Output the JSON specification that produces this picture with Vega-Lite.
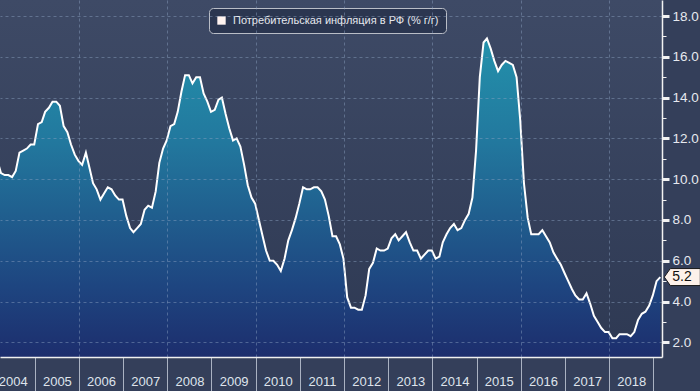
{
  "$schema": "https://vega.github.io/schema/vega-lite/v6.json",
  "width": 662,
  "height": 357,
  "autosize": {"type": "none"},
  "padding": {"left": 0, "top": 0, "right": 38, "bottom": 34},
  "background": "#343f5a",
  "config": {
    "view": {"stroke": null, "fill": {"gradient": "linear", "x1": 0, "y1": 0, "x2": 0, "y2": 1, "stops": [{"offset": 0, "color": "#3e4a66"}, {"offset": 1, "color": "#2e3953"}]}},
    "font": "Liberation Sans"
  },
  "data": {"values": [
    {"date": "2004-01-28", "value": 11.3}, {"date": "2004-02-28", "value": 10.9}, {"date": "2004-03-28", "value": 10.3}, {"date": "2004-04-28", "value": 10.2}, {"date": "2004-05-28", "value": 10.2}, {"date": "2004-06-28", "value": 10.1}, {"date": "2004-07-28", "value": 10.4}, {"date": "2004-08-28", "value": 11.3}, {"date": "2004-09-28", "value": 11.4}, {"date": "2004-10-28", "value": 11.5}, {"date": "2004-11-28", "value": 11.7}, {"date": "2004-12-28", "value": 11.7},
    {"date": "2005-01-28", "value": 12.7}, {"date": "2005-02-28", "value": 12.8}, {"date": "2005-03-28", "value": 13.3}, {"date": "2005-04-28", "value": 13.5}, {"date": "2005-05-28", "value": 13.8}, {"date": "2005-06-28", "value": 13.8}, {"date": "2005-07-28", "value": 13.6}, {"date": "2005-08-28", "value": 12.6}, {"date": "2005-09-28", "value": 12.3}, {"date": "2005-10-28", "value": 11.7}, {"date": "2005-11-28", "value": 11.2}, {"date": "2005-12-28", "value": 10.9},
    {"date": "2006-01-28", "value": 10.7}, {"date": "2006-02-28", "value": 11.3}, {"date": "2006-03-28", "value": 10.6}, {"date": "2006-04-28", "value": 9.8}, {"date": "2006-05-28", "value": 9.5}, {"date": "2006-06-28", "value": 9.0}, {"date": "2006-07-28", "value": 9.3}, {"date": "2006-08-28", "value": 9.6}, {"date": "2006-09-28", "value": 9.5}, {"date": "2006-10-28", "value": 9.2}, {"date": "2006-11-28", "value": 9.0}, {"date": "2006-12-28", "value": 9.0},
    {"date": "2007-01-28", "value": 8.2}, {"date": "2007-02-28", "value": 7.6}, {"date": "2007-03-28", "value": 7.4}, {"date": "2007-04-28", "value": 7.6}, {"date": "2007-05-28", "value": 7.8}, {"date": "2007-06-28", "value": 8.5}, {"date": "2007-07-28", "value": 8.7}, {"date": "2007-08-28", "value": 8.6}, {"date": "2007-09-28", "value": 9.4}, {"date": "2007-10-28", "value": 10.8}, {"date": "2007-11-28", "value": 11.5}, {"date": "2007-12-28", "value": 11.9},
    {"date": "2008-01-28", "value": 12.6}, {"date": "2008-02-28", "value": 12.7}, {"date": "2008-03-28", "value": 13.3}, {"date": "2008-04-28", "value": 14.3}, {"date": "2008-05-28", "value": 15.1}, {"date": "2008-06-28", "value": 15.1}, {"date": "2008-07-28", "value": 14.7}, {"date": "2008-08-28", "value": 15.0}, {"date": "2008-09-28", "value": 15.0}, {"date": "2008-10-28", "value": 14.2}, {"date": "2008-11-28", "value": 13.8}, {"date": "2008-12-28", "value": 13.3},
    {"date": "2009-01-28", "value": 13.4}, {"date": "2009-02-28", "value": 13.9}, {"date": "2009-03-28", "value": 14.0}, {"date": "2009-04-28", "value": 13.2}, {"date": "2009-05-28", "value": 12.5}, {"date": "2009-06-28", "value": 11.9}, {"date": "2009-07-28", "value": 12.0}, {"date": "2009-08-28", "value": 11.6}, {"date": "2009-09-28", "value": 10.7}, {"date": "2009-10-28", "value": 9.7}, {"date": "2009-11-28", "value": 9.1}, {"date": "2009-12-28", "value": 8.8},
    {"date": "2010-01-28", "value": 8.0}, {"date": "2010-02-28", "value": 7.2}, {"date": "2010-03-28", "value": 6.5}, {"date": "2010-04-28", "value": 6.0}, {"date": "2010-05-28", "value": 6.0}, {"date": "2010-06-28", "value": 5.8}, {"date": "2010-07-28", "value": 5.5}, {"date": "2010-08-28", "value": 6.1}, {"date": "2010-09-28", "value": 7.0}, {"date": "2010-10-28", "value": 7.5}, {"date": "2010-11-28", "value": 8.1}, {"date": "2010-12-28", "value": 8.8},
    {"date": "2011-01-28", "value": 9.6}, {"date": "2011-02-28", "value": 9.5}, {"date": "2011-03-28", "value": 9.5}, {"date": "2011-04-28", "value": 9.6}, {"date": "2011-05-28", "value": 9.6}, {"date": "2011-06-28", "value": 9.4}, {"date": "2011-07-28", "value": 9.0}, {"date": "2011-08-28", "value": 8.2}, {"date": "2011-09-28", "value": 7.2}, {"date": "2011-10-28", "value": 7.2}, {"date": "2011-11-28", "value": 6.8}, {"date": "2011-12-28", "value": 6.1},
    {"date": "2012-01-28", "value": 4.2}, {"date": "2012-02-28", "value": 3.7}, {"date": "2012-03-28", "value": 3.7}, {"date": "2012-04-28", "value": 3.6}, {"date": "2012-05-28", "value": 3.6}, {"date": "2012-06-28", "value": 4.3}, {"date": "2012-07-28", "value": 5.6}, {"date": "2012-08-28", "value": 5.9}, {"date": "2012-09-28", "value": 6.6}, {"date": "2012-10-28", "value": 6.5}, {"date": "2012-11-28", "value": 6.5}, {"date": "2012-12-28", "value": 6.6},
    {"date": "2013-01-28", "value": 7.1}, {"date": "2013-02-28", "value": 7.3}, {"date": "2013-03-28", "value": 7.0}, {"date": "2013-04-28", "value": 7.2}, {"date": "2013-05-28", "value": 7.4}, {"date": "2013-06-28", "value": 6.9}, {"date": "2013-07-28", "value": 6.5}, {"date": "2013-08-28", "value": 6.5}, {"date": "2013-09-28", "value": 6.1}, {"date": "2013-10-28", "value": 6.3}, {"date": "2013-11-28", "value": 6.5}, {"date": "2013-12-28", "value": 6.5},
    {"date": "2014-01-28", "value": 6.1}, {"date": "2014-02-28", "value": 6.2}, {"date": "2014-03-28", "value": 6.9}, {"date": "2014-04-28", "value": 7.3}, {"date": "2014-05-28", "value": 7.6}, {"date": "2014-06-28", "value": 7.8}, {"date": "2014-07-28", "value": 7.5}, {"date": "2014-08-28", "value": 7.6}, {"date": "2014-09-28", "value": 8.0}, {"date": "2014-10-28", "value": 8.3}, {"date": "2014-11-28", "value": 9.1}, {"date": "2014-12-28", "value": 11.4},
    {"date": "2015-01-28", "value": 15.0}, {"date": "2015-02-28", "value": 16.7}, {"date": "2015-03-28", "value": 16.9}, {"date": "2015-04-28", "value": 16.4}, {"date": "2015-05-28", "value": 15.8}, {"date": "2015-06-28", "value": 15.3}, {"date": "2015-07-28", "value": 15.6}, {"date": "2015-08-28", "value": 15.8}, {"date": "2015-09-28", "value": 15.7}, {"date": "2015-10-28", "value": 15.6}, {"date": "2015-11-28", "value": 15.0}, {"date": "2015-12-28", "value": 12.9},
    {"date": "2016-01-28", "value": 9.8}, {"date": "2016-02-28", "value": 8.1}, {"date": "2016-03-28", "value": 7.3}, {"date": "2016-04-28", "value": 7.3}, {"date": "2016-05-28", "value": 7.3}, {"date": "2016-06-28", "value": 7.5}, {"date": "2016-07-28", "value": 7.2}, {"date": "2016-08-28", "value": 6.9}, {"date": "2016-09-28", "value": 6.4}, {"date": "2016-10-28", "value": 6.1}, {"date": "2016-11-28", "value": 5.8}, {"date": "2016-12-28", "value": 5.4},
    {"date": "2017-01-28", "value": 5.0}, {"date": "2017-02-28", "value": 4.6}, {"date": "2017-03-28", "value": 4.3}, {"date": "2017-04-28", "value": 4.1}, {"date": "2017-05-28", "value": 4.1}, {"date": "2017-06-28", "value": 4.4}, {"date": "2017-07-28", "value": 3.9}, {"date": "2017-08-28", "value": 3.3}, {"date": "2017-09-28", "value": 3.0}, {"date": "2017-10-28", "value": 2.7}, {"date": "2017-11-28", "value": 2.5}, {"date": "2017-12-28", "value": 2.5},
    {"date": "2018-01-28", "value": 2.2}, {"date": "2018-02-28", "value": 2.2}, {"date": "2018-03-28", "value": 2.4}, {"date": "2018-04-28", "value": 2.4}, {"date": "2018-05-28", "value": 2.4}, {"date": "2018-06-28", "value": 2.3}, {"date": "2018-07-28", "value": 2.5}, {"date": "2018-08-28", "value": 3.1}, {"date": "2018-09-28", "value": 3.4}, {"date": "2018-10-28", "value": 3.5}, {"date": "2018-11-28", "value": 3.8}, {"date": "2018-12-28", "value": 4.3},
    {"date": "2019-01-28", "value": 5.0}, {"date": "2019-02-28", "value": 5.2}
  ]},
  "encoding": {
    "x": {
      "field": "date", "type": "temporal",
      "scale": {"domain": [{"year": 2004, "month": 3, "date": 20}, {"year": 2019, "month": 3, "date": 14}]},
      "axis": {
        "title": null,
        "values": [{"year": 2005, "month": 1, "date": 1}, {"year": 2006, "month": 1, "date": 1}, {"year": 2007, "month": 1, "date": 1}, {"year": 2008, "month": 1, "date": 1}, {"year": 2009, "month": 1, "date": 1}, {"year": 2010, "month": 1, "date": 1}, {"year": 2011, "month": 1, "date": 1}, {"year": 2012, "month": 1, "date": 1}, {"year": 2013, "month": 1, "date": 1}, {"year": 2014, "month": 1, "date": 1}, {"year": 2015, "month": 1, "date": 1}, {"year": 2016, "month": 1, "date": 1}, {"year": 2017, "month": 1, "date": 1}, {"year": 2018, "month": 1, "date": 1}, {"year": 2019, "month": 1, "date": 1}],
        "labelExpr": "'' + (year(datum.value) - 1)",
        "labelOffset": -22,
        "labelOverlap": false,
        "labelBound": false,
        "labelFlush": false,
        "labelPadding": -16,
        "labelColor": "#dfe4ec",
        "labelFontSize": 13,
        "tickSize": 34,
        "tickColor": "#aab2c2",
        "tickWidth": 1,
        "domainColor": "#f0f0f0",
        "domainWidth": 1.5,
        "grid": true,
        "gridColor": "#8fa4c4",
        "gridDash": [3, 3],
        "gridOpacity": {"condition": {"test": "year(datum.value) % 2 == 0", "value": 0.45}, "value": 0},
        "zindex": 1
      }
    },
    "y": {
      "field": "value", "type": "quantitative",
      "scale": {"domain": [1.28, 18.785], "zero": false, "nice": false},
      "axis": {
        "title": null,
        "orient": "right",
        "values": [2, 3, 4, 5, 6, 7, 8, 9, 10, 11, 12, 13, 14, 15, 16, 17, 18],
        "labelExpr": "datum.value % 2 == 0 ? format(datum.value, '.1f') : ''",
        "labelOverlap": false,
        "labelBound": false,
        "labelFlush": false,
        "labelPadding": 3,
        "labelColor": "#e6e9ef",
        "labelFontSize": 13.5,
        "tickSize": {"condition": {"test": "datum.value % 2 == 0", "value": 7}, "value": 4},
        "tickWidth": {"condition": {"test": "datum.value % 2 == 0", "value": 3}, "value": 1},
        "tickColor": "#f2f2f2",
        "domainColor": "#f2f2f2",
        "domainWidth": 1.5,
        "grid": true,
        "gridColor": "#8fa4c4",
        "gridDash": [3, 3],
        "gridOpacity": {"condition": {"test": "datum.value % 2 == 0", "value": 0.45}, "value": 0},
        "zindex": 1
      }
    }
  },
  "layer": [
    {
      "mark": {"type": "area", "clip": true, "fill": {"gradient": "linear", "x1": 0, "y1": 0, "x2": 0, "y2": 1, "stops": [{"offset": 0, "color": "#2391ab"}, {"offset": 0.3, "color": "#22789e"}, {"offset": 0.5, "color": "#20608f"}, {"offset": 0.72, "color": "#1e4580"}, {"offset": 1, "color": "#1c2566"}]}}
    },
    {
      "mark": {"type": "line", "clip": true, "strokeWidth": 2},
      "encoding": {
        "color": {
          "datum": "Потребительская инфляция в РФ (% г/г)",
          "scale": {"range": ["#ffffff"]},
          "legend": {
            "orient": "none", "legendX": 209, "legendY": 8, "title": null,
            "fillColor": "#2b3650", "strokeColor": "#b9bdc6", "cornerRadius": 4, "padding": 7,
            "symbolType": "square", "symbolSize": 70, "symbolFillColor": "#fff3f0", "symbolStrokeWidth": 0,
            "labelColor": "#e6e8ee", "labelFontSize": 11, "labelFont": "Liberation Sans", "labelOffset": 6, "labelLimit": 500
          }
        }
      }
    },
    {
      "transform": [{"filter": "year(toDate(datum.date)) == 2019 && datum.value == 5.2"}],
      "mark": {"type": "point", "shape": "M4,0L10,-8.5L40,-8.5L40,8.5L10,8.5Z", "size": 4, "filled": true, "fill": "#fdf1ea", "stroke": "#1a1a1a", "strokeWidth": 1, "opacity": 1}
    },
    {
      "transform": [{"filter": "year(toDate(datum.date)) == 2019 && datum.value == 5.2"}],
      "mark": {"type": "text", "dx": 12, "align": "left", "baseline": "middle", "fontSize": 14, "color": "#111111"},
      "encoding": {"text": {"field": "value", "type": "quantitative", "format": ".1f"}}
    }
  ]
}
